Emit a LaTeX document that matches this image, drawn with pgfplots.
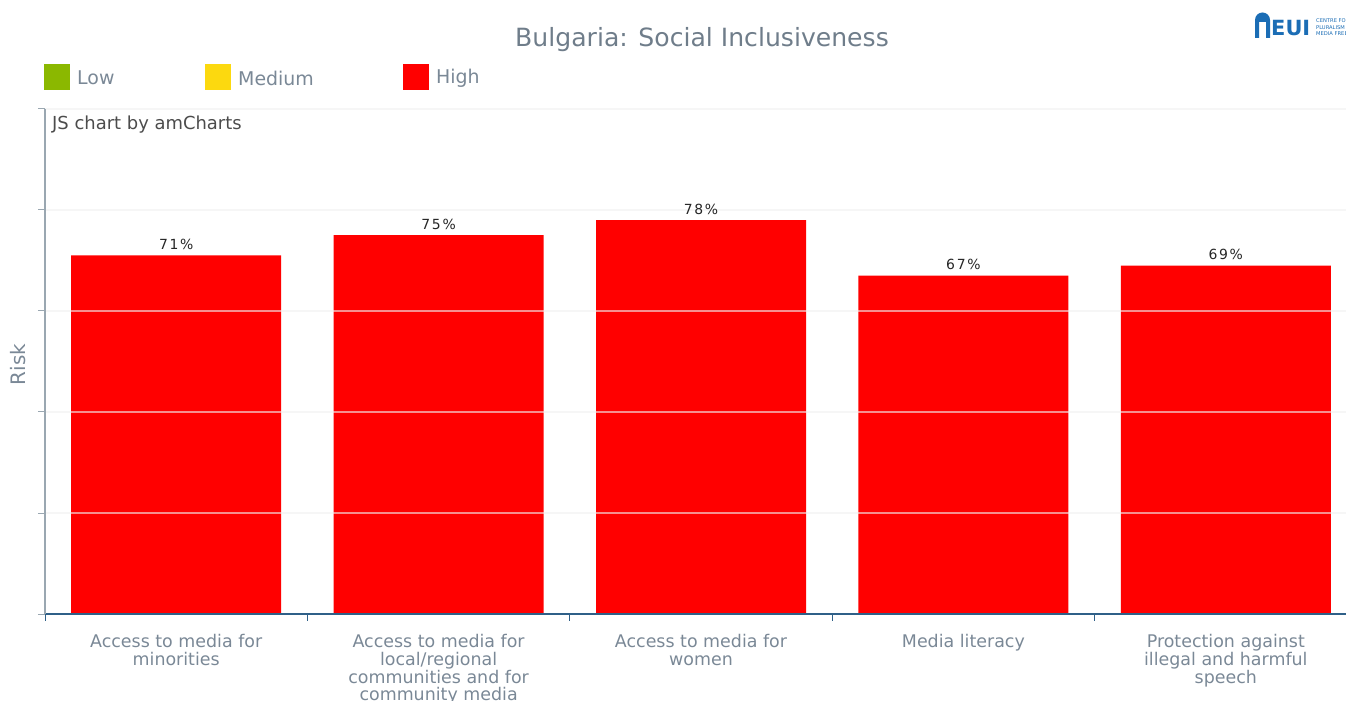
\documentclass[border=0pt]{standalone}
\usepackage{pgfplots}
\pgfplotsset{compat=1.18}
\usepackage{fontspec}
\setmainfont{DejaVu Sans}
\definecolor{txtgrey}{HTML}{7A8896}
\definecolor{titlegrey}{HTML}{6F7D8A}
\definecolor{lowc}{HTML}{8BB800}
\definecolor{medc}{HTML}{FCD90F}
\definecolor{highc}{HTML}{FF0000}
\definecolor{xaxc}{HTML}{2F6088}
\definecolor{yaxc}{HTML}{9AA7B1}
\definecolor{euiblue}{HTML}{1B6DB5}
\begin{document}
\begin{tikzpicture}[x=1bp,y=1bp]
\useasboundingbox (-45,-86) rectangle (1301,614);
% title
\node[font=\fontsize{25.2}{29}\selectfont, text=titlegrey] at (657,574) {Bulgaria: Social Inclusiveness};
% legend
\fill[lowc] (-1,524) rectangle (25,550);
\node[anchor=west, inner sep=0, font=\fontsize{19}{22}\selectfont, text=txtgrey] at (32,536) {Low};
\fill[medc] (160,524) rectangle (186,550);
\node[anchor=west, inner sep=0, font=\fontsize{19}{22}\selectfont, text=txtgrey] at (193,536) {Medium};
\fill[highc] (358,524) rectangle (384,550);
\node[anchor=west, inner sep=0, font=\fontsize{19}{22}\selectfont, text=txtgrey] at (391,536) {High};
% logo
\fill[euiblue] (1210,576) -- (1210,594) arc (180:0:7.5) -- (1225,576) -- (1221,576) -- (1221,592) -- (1214,592) -- (1214,576) -- cycle;
\node[anchor=west, inner sep=0, font=\bfseries\fontsize{21}{21}\selectfont, text=euiblue] at (1226,586) {EUI};
\node[anchor=base west, inner sep=0, font=\fontsize{5.2}{5.2}\selectfont, text=euiblue] at (1271,591) {CENTRE FOR};
\node[anchor=base west, inner sep=0, font=\fontsize{5.2}{5.2}\selectfont, text=euiblue] at (1271,584.5) {PLURALISM};
\node[anchor=base west, inner sep=0, font=\fontsize{5.2}{5.2}\selectfont, text=euiblue] at (1271,578) {MEDIA FREEDOM};
\begin{axis}[
  anchor=south west,
  scale only axis, width=1312bp, height=505bp,
  xmin=-0.5, xmax=4.5, ymin=0, ymax=100,
  axis x line*=bottom, axis y line*=left,
  x axis line style={draw=xaxc, line width=1.2pt, -},
  y axis line style={draw=yaxc, line width=1.2pt, -},
  xtick={-0.5,0.5,1.5,2.5,3.5,4.5}, xticklabels={},
  xtick style={draw=xaxc, line width=1pt},
  ytick={0,20,40,60,80,100}, yticklabels={},
  ytick style={draw=yaxc, line width=1pt},
  tick align=outside, major tick length=7bp,
  ymajorgrids, grid style={draw=gray!12, line width=1.2pt, opacity=0.6},
  axis on top,
  /pgf/number format/assume math mode=true,
  extra x ticks={0,1,2,3,4},
  extra x tick labels={{Access to media for\\minorities},{Access to media for\\local/regional\\communities and for\\community media},{Access to media for\\women},{Media literacy},{Protection against\\illegal and harmful\\speech}},
  extra x tick style={major tick length=0pt, grid=none},
  xticklabel style={align=center, text=txtgrey, font=\fontsize{17.5}{17.8}\selectfont, yshift=-17bp},
  ylabel={Risk}, ylabel style={text=txtgrey, font=\fontsize{20}{22}\selectfont, at={(axis description cs:0,0.5)}, anchor=center, yshift=27bp, xshift=-3bp},
  nodes near coords={\pgfmathprintnumber{\pgfplotspointmeta}\%},
  every node near coord/.append style={text=black!85, font=\addfontfeature{LetterSpace=12}\fontsize{14}{16}\selectfont, yshift=2bp},
  clip=false,
]
\addplot[ybar, bar width=210bp, bar shift=0pt, fill=highc, draw=none] coordinates {(0,71) (1,75) (2,78) (3,67) (4,69)};
\end{axis}
\node[anchor=west, inner sep=0, font=\fontsize{18}{20}\selectfont, text=black!70] at (7,489) {JS chart by amCharts};
\end{tikzpicture}
\end{document}
